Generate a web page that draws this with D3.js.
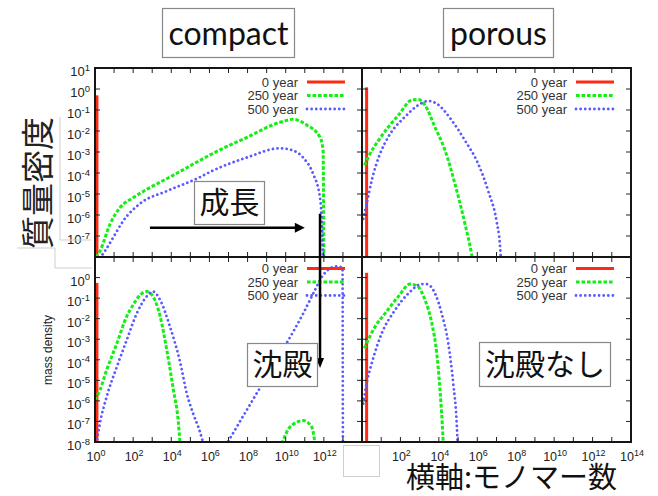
<!DOCTYPE html>
<html><head><meta charset="utf-8">
<script src="https://cdn.jsdelivr.net/npm/d3@7"></script>
<style>body{margin:0;background:#fff;} svg{display:block;}</style>
</head><body>
<svg id="c" width="658" height="496"></svg>
<script>
// ---- data ----
const seriesNames = ["0 year", "250 year", "500 year"];
const xTickExps = [0,1,2,3,4,5,6,7,8,9,10,11,12,13,14];
const yTickExps = [-8,-7,-6,-5,-4,-3,-2,-1,0,1];
const xLabelExpsLeft = [0,2,4,6,8,10,12];
const xLabelExpsRight = [2,4,6,8,10,12,14];
const yLabelExpsTop = [1,0,-1,-2,-3,-4,-5,-6,-7];
const yLabelExpsBottom = [0,-1,-2,-3,-4,-5,-6,-7,-8];

// compact, upper panel
const compactTop0 = [[1.26,0.5],[1.26,1e-12]];
const compactTop250 = [[1.1,1e-8],[1.8,1.9e-8],[6.2,3.8e-7],[20,2.2e-6],[98,6.6e-6],[760,2.0e-5],[1.2e4,7.6e-5],[3.2e5,4.0e-4],[1.5e6,8.5e-4],[9.3e7,5.0e-3],[5.0e9,2.6e-2],[2.4e10,3.6e-2],[1.3e11,1.9e-2],[6.3e11,5.0e-3],[9.1e11,1.2e-3],[1.0e12,8e-9]];
const compactTop500 = [[1.8,9e-9],[3.3,1.9e-8],[8.7,8.1e-8],[30,5.2e-7],[230,3.5e-6],[6.0e3,1.4e-5],[2.2e5,5.4e-5],[1.5e6,1.3e-4],[9.3e7,5.5e-4],[5.0e9,1.5e-3],[1.7e10,1.3e-3],[8.1e10,5.5e-4],[2.7e11,9.3e-5],[6.3e11,6.6e-6],[7.9e11,3.8e-7],[9.1e11,9e-9]];
// porous, upper panel
const porousTop0 = [[1.74,1.2],[1.74,1e-12]];
const porousTop250 = [[1.35,2.3e-4],[2.1,5.6e-4],[7.1,3.5e-3],[23,1.5e-2],[78,5.6e-2],[390,0.30],[850,0.32],[1.9e3,0.17],[6.3e3,1.5e-2],[2.1e4,1.2e-3],[6.9e4,3.0e-5],[2.3e5,3.7e-7],[5.1e5,1.3e-8],[5.6e5,8e-9]];
const porousTop500 = [[1.17,6.5e-7],[1.74,3.3e-6],[3.2,4.4e-5],[8.7,8.3e-4],[23,5.1e-3],[170,4.7e-2],[850,0.17],[2.8e3,0.27],[7.8e3,0.20],[4.7e4,3.2e-2],[2.3e5,3.5e-3],[1.1e6,2.8e-4],[3.7e6,1.4e-5],[1.0e7,5.2e-7],[1.5e7,4.1e-8],[1.7e7,8e-9]];
// compact, lower panel
const compactBot0 = [[1.26,0.55],[1.26,1e-12]];
const compactBot250 = [[1.0,1.1e-6],[1.8,3.3e-6],[4.1,3.2e-5],[14,6.3e-4],[46,1.3e-2],[100,4.7e-2],[230,0.14],[510,0.21],[1.1e3,0.12],[2.6e3,1.3e-2],[5.8e3,3.0e-4],[1.3e4,3.3e-6],[2.3e4,1.1e-7],[2.9e4,8e-9],null,[6.2e9,8e-9],[1.7e10,5.4e-8],[8.3e10,1.1e-7],[2.3e11,5.4e-8],[3.5e11,8e-9]];
const compactBot500 = [[1.2,8e-9],[1.8,7.9e-8],[4.1,1.6e-6],[14,4.6e-5],[46,9.1e-4],[155,1.8e-2],[510,0.12],[1.1e3,0.21],[2.6e3,8.1e-2],[8.5e3,4.1e-3],[2.9e4,7.8e-5],[6.5e4,2.3e-6],[1.4e5,2.4e-7],[3.2e5,3.1e-8],[4.8e5,8e-9],null,[9.8e6,1.1e-8],[8.9e7,3.5e-7],[1.0e9,1.5e-5],[1.1e10,6.3e-4],[8.3e10,1.8e-2],[2.8e11,0.17],[9.3e11,1.35],[4.7e12,3.5],[9.5e12,3.0],[1.0e13,1e-9]];
// porous, lower panel
const porousBot0 = [[1.74,1.7],[1.74,1e-12]];
const porousBot250 = [[1.32,3.6e-4],[2.1,9.1e-4],[4.8,4.1e-3],[16,1.8e-2],[78,0.12],[320,0.48],[710,0.40],[1.9e3,8.1e-2],[4.3e3,6.0e-3],[7.8e3,2.0e-4],[1.15e4,3.3e-6],[1.5e4,7.9e-8],[1.7e4,8e-9]];
const porousBot500 = [[1.17,7.4e-7],[1.74,7.1e-6],[3.2,6.6e-5],[10.7,1.95e-3],[52,2.6e-2],[260,0.17],[1.3e3,0.48],[2.3e3,0.48],[6.3e3,0.17],[1.4e4,1.8e-2],[3.1e4,6.3e-4],[5.6e4,7.1e-6],[8.5e4,7.9e-8],[9.5e4,8e-9]];

// ---- layout ----
const svg = d3.select("#c");
const colors = ["#ff2a14", "#14ee14", "#5a5aff"];
const dashes = [null, "3.6,1.9", "0.01,4.6"];
const widths = [3, 3, 2.8];
const caps = ["butt", "butt", "round"];
const fontLat = "'Liberation Sans', Arial, Helvetica, sans-serif";
const fontJP = "'Noto Sans CJK JP', sans-serif";

const panels = [
  {id:"tl", x0:95, x1:362, y0:68, y1:257, data:[compactTop0, compactTop250, compactTop500], legendY:[82,95.5,109], ylabels:yLabelExpsTop, xlabels:null},
  {id:"tr", x0:362, x1:631, y0:68, y1:257, data:[porousTop0, porousTop250, porousTop500], legendY:[82,95.5,109], ylabels:null, xlabels:null},
  {id:"bl", x0:95, x1:362, y0:257, y1:442, data:[compactBot0, compactBot250, compactBot500], legendY:[268.5,282,295.5], ylabels:yLabelExpsBottom, xlabels:xLabelExpsLeft},
  {id:"br", x0:362, x1:631, y0:257, y1:442, data:[porousBot0, porousBot250, porousBot500], legendY:[268.5,282,295.5], ylabels:null, xlabels:xLabelExpsRight}
];

const defs = svg.append("defs");
panels.forEach(p => {
  p.x = d3.scaleLog().domain([1, 1e14]).range([p.x0, p.x1]);
  p.y = d3.scaleLog().domain([1e-8, 1e1]).range([p.y1, p.y0]);
  defs.append("clipPath").attr("id", "clip-" + p.id)
    .append("rect").attr("x", p.x0).attr("y", p.y0).attr("width", p.x1 - p.x0).attr("height", p.y1 - p.y0);
});

function supLabel(sel, exp, base, sup) {
  sel.append("tspan").text("10").style("font-size", base + "px");
  sel.append("tspan").text(String(exp)).attr("dy", -5.5).style("font-size", sup + "px");
}

// curves
panels.forEach(p => {
  const g = svg.append("g").attr("clip-path", "url(#clip-" + p.id + ")");
  p.data.forEach((ser, i) => {
    const line = d3.line()
      .defined(d => d != null)
      .x(d => p.x(d[0]))
      .y(d => p.y(Math.max(d[1], 1e-12)))
      .curve(i === 0 ? d3.curveLinear : d3.curveMonotoneX);
    g.append("path").datum(ser).attr("d", line)
      .attr("fill", "none").attr("stroke", colors[i]).attr("stroke-width", widths[i])
      .attr("stroke-dasharray", dashes[i]).attr("stroke-linecap", caps[i]);
  });
});

// frames, ticks, labels, legends
panels.forEach(p => {
  const g = svg.append("g");
  xTickExps.forEach(e => {
    const xx = p.x(Math.pow(10, e));
    g.append("line").attr("x1", xx).attr("x2", xx).attr("y1", p.y0).attr("y2", p.y0 + 5).attr("stroke", "#222").attr("stroke-width", 1);
    g.append("line").attr("x1", xx).attr("x2", xx).attr("y1", p.y1).attr("y2", p.y1 - 5).attr("stroke", "#222").attr("stroke-width", 1);
  });
  yTickExps.forEach(e => {
    const yy = p.y(Math.pow(10, e));
    g.append("line").attr("y1", yy).attr("y2", yy).attr("x1", p.x0).attr("x2", p.x0 + 5).attr("stroke", "#222").attr("stroke-width", 1);
    g.append("line").attr("y1", yy).attr("y2", yy).attr("x1", p.x1).attr("x2", p.x1 - 5).attr("stroke", "#222").attr("stroke-width", 1);
  });
  g.append("rect").attr("x", p.x0).attr("y", p.y0).attr("width", p.x1 - p.x0).attr("height", p.y1 - p.y0)
    .attr("fill", "none").attr("stroke", "#151515").attr("stroke-width", 2);

  if (p.ylabels) {
    p.ylabels.forEach(e => {
      const t = g.append("text").attr("x", p.x0 - 5).attr("y", p.y(Math.pow(10, e)) + 8)
        .attr("text-anchor", "end").style("font-family", fontLat).attr("fill", "#222");
      supLabel(t, e, 13, 9.5);
    });
  }
  if (p.xlabels) {
    p.xlabels.forEach(e => {
      const t = g.append("text").attr("x", p.x(Math.pow(10, e)) + 1).attr("y", p.y1 + 19)
        .attr("text-anchor", "middle").style("font-family", fontLat).attr("fill", "#222");
      supLabel(t, e, 12.5, 9);
    });
  }
  seriesNames.forEach((name, i) => {
    const ly = p.legendY[i];
    g.append("text").attr("x", p.x1 - 64).attr("y", ly).attr("dy", "0.35em")
      .attr("text-anchor", "end").style("font-family", fontLat).style("font-size", "13px").attr("fill", "#333").text(name);
    g.append("line").attr("x1", p.x1 - 55).attr("x2", p.x1 - 17).attr("y1", ly).attr("y2", ly)
      .attr("stroke", colors[i]).attr("stroke-width", widths[i]).attr("stroke-dasharray", dashes[i])
      .attr("stroke-linecap", caps[i]);
  });
});

// paste-edge artefacts and cover patch
const faint = "#cfcfcf";
[[60,117,60,240],[60,240,91,240],[17,248,55,248],[55,248,55,268],[55,268,92,268]].forEach(l => {
  svg.append("line").attr("x1", l[0]).attr("y1", l[1]).attr("x2", l[2]).attr("y2", l[3]).attr("stroke", faint).attr("stroke-width", 1);
});
svg.append("rect").attr("x", 343.5).attr("y", 445.5).attr("width", 36).attr("height", 31).attr("fill", "#fff").attr("stroke", faint);

// axis titles
svg.append("text").attr("transform", "translate(48,350) rotate(-90)").attr("text-anchor", "middle").attr("dy", "0.35em")
  .style("font-family", fontLat).style("font-size", "12px").attr("fill", "#222").text("mass density");
svg.append("text").attr("transform", "translate(38,183) rotate(-90)").attr("text-anchor", "middle").attr("dy", "0.35em")
  .style("font-family", fontJP).style("font-size", "33px").attr("fill", "#222").text("質量密度");
svg.append("text").attr("x", 406).attr("y", 488).style("font-family", fontJP).style("font-size", "29px").attr("fill", "#111").text("横軸:モノマー数");

// boxed labels
function boxLabel(x, y, w, h, txt, font, size, base) {
  svg.append("rect").attr("x", x).attr("y", y).attr("width", w).attr("height", h).attr("fill", "#fff").attr("stroke", "#888").attr("stroke-width", 1.2);
  svg.append("text").attr("x", x + w / 2).attr("y", base).attr("text-anchor", "middle")
    .style("font-family", font).style("font-size", size + "px").attr("fill", "#111").text(txt);
}
boxLabel(162.5, 8.5, 132, 49, "compact", "Lato, 'Open Sans', sans-serif", 32, 45);
boxLabel(443.5, 8.5, 110, 49, "porous", "Lato, 'Open Sans', sans-serif", 32, 45);

// arrows (data coordinates)
const tl = panels[0], bl = panels[2];
const ah = {x1: tl.x(760), x2: tl.x(1.0e11), y: tl.y(2.5e-7)};
svg.append("line").attr("x1", ah.x1).attr("x2", ah.x2 - 6).attr("y1", ah.y).attr("y2", ah.y).attr("stroke", "#000").attr("stroke-width", 2.5);
svg.append("path").attr("d", `M${ah.x2},${ah.y} L${ah.x2 - 10},${ah.y - 5} L${ah.x2 - 10},${ah.y + 5} Z`).attr("fill", "#000");
const av = {x: tl.x(6.3e11), y1: tl.y(1.15e-6), y2: bl.y(4e-5)};
svg.append("line").attr("x1", av.x).attr("x2", av.x).attr("y1", av.y1).attr("y2", av.y2 - 6).attr("stroke", "#000").attr("stroke-width", 2.5);
svg.append("path").attr("d", `M${av.x},${av.y2} L${av.x - 4},${av.y2 - 10} L${av.x + 4},${av.y2 - 10} Z`).attr("fill", "#000");

boxLabel(194.5, 181.5, 70, 43, "成長", fontJP, 30, 213);
boxLabel(247.5, 343.5, 70, 43, "沈殿", fontJP, 30, 375);
boxLabel(479.5, 342.5, 131, 44, "沈殿なし", fontJP, 30, 375);
</script>
</body></html>
